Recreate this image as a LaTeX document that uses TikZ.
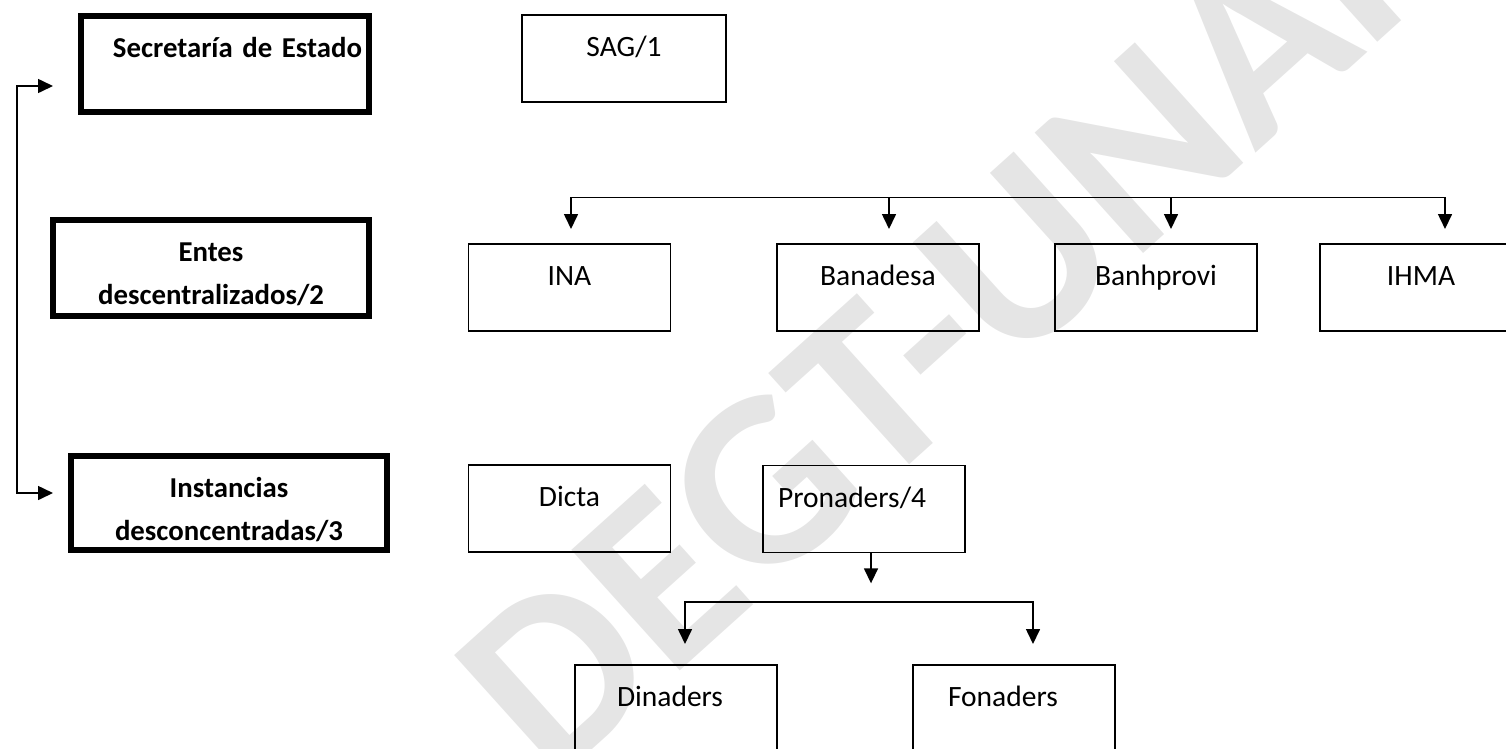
\documentclass[tikz,border=0pt]{standalone}
\usepackage{fontspec}
\setmainfont{Carlito}
\usepackage{tikz}
\usetikzlibrary{arrows.meta,calc}
\newcommand{\orgfont}{\fontsize{29.5pt}{43pt}\selectfont}
\newcommand{\levelfont}{\fontsize{28.8pt}{43pt}\selectfont\bfseries}
\pgfdeclarelayer{background}
\pgfsetlayers{background,main}

\tikzset{
  level/.style={draw,line width=6pt,inner sep=0pt,align=center,font=\levelfont,
    text height=41.5pt},
  unit/.style={draw,line width=1.6pt,inner sep=0pt,minimum width=202pt,
    text height=41.5pt,text depth=45.5pt,font=\orgfont},
  link/.style={line width=1.6pt},
  tip/.style={-{Triangle[width=14pt,length=15pt]}},
  tips/.style={{Triangle[width=14pt,length=15pt]}-{Triangle[width=14pt,length=15pt]}},
}

\begin{document}
\begin{tikzpicture}[x=1pt,y=-1pt]
      \useasboundingbox (0,0) rectangle (1506,748);

      \begin{pgfonlayer}{background}
        \node[rotate=42,anchor=base west,text=black!10,font=\fontsize{250pt}{250pt}\selectfont\bfseries] (mark) at (550,788) {DEGT-UNAH};
      \end{pgfonlayer}

      \node[level,text width=274pt,inner xsep=7pt,align=right,text depth=54.5pt] (sec) at (225,64) {Secretaría de Estado};
      \node[level,text width=316pt,text depth=54.5pt] (ent) at (211,268) {Entes\\descentralizados/2};
      \node[level,text width=316pt,text depth=52.5pt] (inst) at (229,503) {Instancias\\desconcentradas/3};

      \node[unit,minimum width=204pt] (sag) at (624,58.5) {SAG/1};
      \node[unit] (ina) at (569.5,287.5) {INA};
      \node[unit] (banadesa) at (878,287.5) {Banadesa};
      \node[unit] (banhprovi) at (1156,287.5) {Banhprovi};
      \node[unit] (ihma) at (1421,287.5) {IHMA};

      \node[unit] (dicta) at (569.5,508.5) {Dicta};
      \node[unit,text width=172pt,inner xsep=15pt,align=left] (pron) at (864,509) {Pronaders/4};
      \node[unit,text width=118pt,inner xsep=42pt,align=left] (dinaders) at (676,708.5) {Dinaders};
      \node[unit,text width=132pt,inner xsep=35pt,align=left] (fonaders) at (1014,708.5) {Fonaders};

      % bracket on the left
      \coordinate (secin) at (53,86);
      \coordinate (instin) at (53,493);
      \draw[link,tips] (secin) -- (17,86) -- (17,493) -- (instin);

      % entes descentralizados
      \draw[link,tips] (571,229) -- (571,197.5) -- (1445,197.5) -- (1445,229);
      \foreach \x in {889,1171}
        \draw[link,tip] (\x,197.5) -- (\x,229);

      % pronaders
      \draw[link,tip] ([xshift=7pt]pron.south) -- ++(0,30);
      \draw[link,tips] (685,644) -- (685,602) -- (1033,602) -- (1033,644);
\end{tikzpicture}
\end{document}
